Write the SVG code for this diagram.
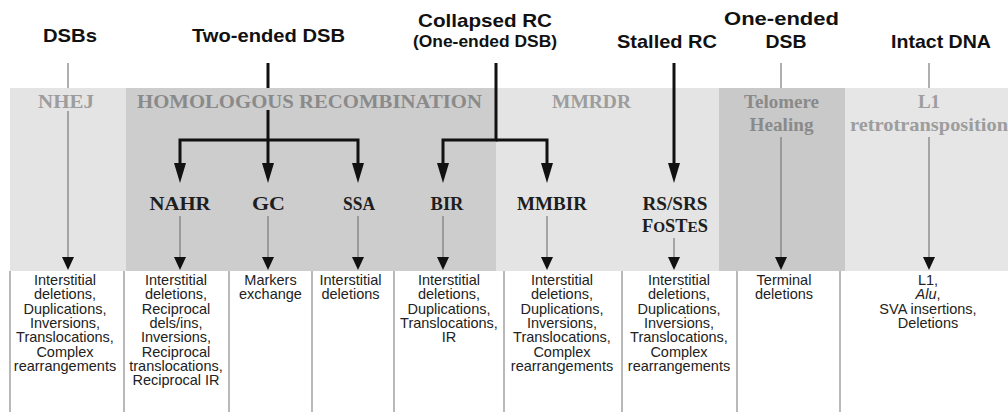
<svg xmlns="http://www.w3.org/2000/svg" width="1008" height="412" viewBox="0 0 1008 412">
<style>
.hdr{font-family:"Liberation Sans",Arial,sans-serif;font-weight:bold;font-size:19px;fill:#111;text-anchor:middle}
.sub{font-size:16.5px}
.band{font-family:"Liberation Serif","Times New Roman",serif;font-weight:bold;font-size:19px;text-anchor:middle}
.bl{fill:#9d9d9d}
.bd{fill:#8a8a8a}
.mid{font-family:"Liberation Serif","Times New Roman",serif;font-weight:bold;font-size:18px;fill:#1e1e1e;text-anchor:middle}
.res{font-family:"Liberation Sans",Arial,sans-serif;font-size:14.5px;fill:#222;text-anchor:middle}
.thick{fill:none;stroke:#111;stroke-width:3}
.thin{fill:none;stroke:#7a7a7a;stroke-width:1.2}
.sep{stroke:#8a8a8a;stroke-width:1.2}
</style>
<defs>
<marker id="ahThick" markerUnits="userSpaceOnUse" markerWidth="22" markerHeight="14" viewBox="0 -7 22 14" refX="0" refY="0" orient="auto">
<path d="M0,-6 L20,0 L0,6 z" fill="#111"/>
</marker>
<marker id="ahThin" markerUnits="userSpaceOnUse" markerWidth="15" markerHeight="14" viewBox="0 -7 15 14" refX="0" refY="0" orient="auto">
<path d="M0,-6 L13,0 L0,6 z" fill="#111"/>
</marker>
</defs>
<rect x="0" y="0" width="1008" height="412" fill="#fff"/>
<g id="bands">
<rect x="10" y="88" width="116" height="183" fill="#e4e4e4"/>
<rect x="126" y="88" width="370" height="183" fill="#cdcdcd"/>
<rect x="496" y="88" width="223" height="183" fill="#e4e4e4"/>
<rect x="719" y="88" width="126" height="183" fill="#c9c9c9"/>
<rect x="845" y="88" width="163" height="183" fill="#e6e6e6"/>
</g>
<g id="band-labels">
<g id="nhej"><text class="band bl" x="66" y="108" textLength="56" lengthAdjust="spacingAndGlyphs">NHEJ</text></g>
<g id="hr"><text class="band bd" x="309.5" y="108" textLength="345" lengthAdjust="spacingAndGlyphs">HOMOLOGOUS RECOMBINATION</text></g>
<g id="mmrdr"><text class="band bl" x="591.5" y="108" textLength="79" lengthAdjust="spacingAndGlyphs">MMRDR</text></g>
<g id="telomere"><text class="band bd" x="781.5" y="108" textLength="75" lengthAdjust="spacingAndGlyphs" font-weight="normal">Telomere</text><text class="band bd" x="781.5" y="131" textLength="64" lengthAdjust="spacingAndGlyphs" font-weight="normal">Healing</text></g>
<g id="l1"><text class="band bl" x="929" y="108" font-weight="normal">L1</text><text class="band bl" x="929" y="131" textLength="158" lengthAdjust="spacingAndGlyphs" font-weight="normal">retrotransposition</text></g>
</g>
<g id="headers">
<g id="h-dsbs"><text class="hdr" x="70" y="42" textLength="54" lengthAdjust="spacingAndGlyphs">DSBs</text></g>
<g id="h-two"><text class="hdr" x="268.5" y="42" textLength="153" lengthAdjust="spacingAndGlyphs">Two-ended DSB</text></g>
<g id="h-collapsed"><text class="hdr" x="485" y="27" textLength="134" lengthAdjust="spacingAndGlyphs">Collapsed RC</text><text class="hdr sub" x="485" y="47" textLength="144" lengthAdjust="spacingAndGlyphs">(One-ended DSB)</text></g>
<g id="h-stalled"><text class="hdr" x="667" y="48" textLength="100" lengthAdjust="spacingAndGlyphs">Stalled RC</text></g>
<g id="h-oneended"><text class="hdr" x="781.5" y="25" textLength="115" lengthAdjust="spacingAndGlyphs">One-ended</text><text class="hdr" x="786" y="48" textLength="41" lengthAdjust="spacingAndGlyphs">DSB</text></g>
<g id="h-intact"><text class="hdr" x="941" y="48" textLength="100" lengthAdjust="spacingAndGlyphs">Intact DNA</text></g>
</g>
<g id="mechanisms">
<g id="m-nahr"><text class="mid" x="180" y="210" textLength="61" lengthAdjust="spacingAndGlyphs">NAHR</text></g>
<g id="m-gc"><text class="mid" x="268.5" y="210" textLength="33" lengthAdjust="spacingAndGlyphs">GC</text></g>
<g id="m-ssa"><text class="mid" x="359" y="210" textLength="32" lengthAdjust="spacingAndGlyphs">SSA</text></g>
<g id="m-bir"><text class="mid" x="447" y="210" textLength="33" lengthAdjust="spacingAndGlyphs">BIR</text></g>
<g id="m-mmbir"><text class="mid" x="552" y="210" textLength="70" lengthAdjust="spacingAndGlyphs">MMBIR</text></g>
<g id="m-rs"><text class="mid" x="675" y="210" textLength="65" lengthAdjust="spacingAndGlyphs">RS/SRS</text><text class="mid" x="675" y="232" textLength="66" lengthAdjust="spacingAndGlyphs">F<tspan font-size="15">O</tspan>ST<tspan font-size="15">E</tspan>S</text></g>
</g>
<g id="connectors">
<path class="thick" d="M268,63 V88"/>
<path class="thick" d="M268,110 V163" marker-end="url(#ahThick)"/>
<path class="thick" d="M268,140 H180 V163" marker-end="url(#ahThick)"/>
<path class="thick" d="M268,140 H358 V163" marker-end="url(#ahThick)"/>
<path class="thick" d="M496,63 V140 H443 V163" marker-end="url(#ahThick)"/>
<path class="thick" d="M496,140 H547 V163" marker-end="url(#ahThick)"/>
<path class="thick" d="M674,63 V163" marker-end="url(#ahThick)"/>
<path class="thin" d="M68,63 V88"/>
<path class="thin" d="M68,111 V257" marker-end="url(#ahThin)"/>
<path class="thin" d="M180,216 V257" marker-end="url(#ahThin)"/>
<path class="thin" d="M268,216 V257" marker-end="url(#ahThin)"/>
<path class="thin" d="M358,216 V257" marker-end="url(#ahThin)"/>
<path class="thin" d="M443,216 V257" marker-end="url(#ahThin)"/>
<path class="thin" d="M547,216 V257" marker-end="url(#ahThin)"/>
<path class="thin" d="M674,238 V257" marker-end="url(#ahThin)"/>
<path class="thin" d="M781,63 V88"/>
<path class="thin" d="M781,137 V257" marker-end="url(#ahThin)"/>
<path class="thin" d="M929,63 V88"/>
<path class="thin" d="M929,137 V257" marker-end="url(#ahThin)"/>
</g>
<g id="result-grid">
<line class="sep" x1="10" y1="271" x2="10" y2="412"/>
<line class="sep" x1="124" y1="271" x2="124" y2="412"/>
<line class="sep" x1="229" y1="271" x2="229" y2="412"/>
<line class="sep" x1="312" y1="271" x2="312" y2="412"/>
<line class="sep" x1="394" y1="271" x2="394" y2="412"/>
<line class="sep" x1="504" y1="271" x2="504" y2="412"/>
<line class="sep" x1="622" y1="271" x2="622" y2="412"/>
<line class="sep" x1="737" y1="271" x2="737" y2="412"/>
<line class="sep" x1="840" y1="271" x2="840" y2="412"/>
</g>
<g id="r-nhej"><text class="res" x="65" y="285">Interstitial</text><text class="res" x="65" y="299.3">deletions,</text><text class="res" x="65" y="313.6">Duplications,</text><text class="res" x="65" y="327.9">Inversions,</text><text class="res" x="65" y="342.2">Translocations,</text><text class="res" x="65" y="356.5">Complex</text><text class="res" x="65" y="370.8">rearrangements</text></g>
<g id="r-nahr"><text class="res" x="176" y="285">Interstitial</text><text class="res" x="176" y="299.3">deletions,</text><text class="res" x="176" y="313.6">Reciprocal</text><text class="res" x="176" y="327.9">dels/ins,</text><text class="res" x="176" y="342.2">Inversions,</text><text class="res" x="176" y="356.5">Reciprocal</text><text class="res" x="176" y="370.8">translocations,</text><text class="res" x="176" y="385.1">Reciprocal IR</text></g>
<g id="r-gc"><text class="res" x="270.5" y="285">Markers</text><text class="res" x="270.5" y="299.3">exchange</text></g>
<g id="r-ssa"><text class="res" x="350.5" y="285">Interstitial</text><text class="res" x="350.5" y="299.3">deletions</text></g>
<g id="r-bir"><text class="res" x="449" y="285">Interstitial</text><text class="res" x="449" y="299.3">deletions,</text><text class="res" x="449" y="313.6">Duplications,</text><text class="res" x="449" y="327.9">Translocations,</text><text class="res" x="449" y="342.2">IR</text></g>
<g id="r-mmbir"><text class="res" x="562" y="285">Interstitial</text><text class="res" x="562" y="299.3">deletions,</text><text class="res" x="562" y="313.6">Duplications,</text><text class="res" x="562" y="327.9">Inversions,</text><text class="res" x="562" y="342.2">Translocations,</text><text class="res" x="562" y="356.5">Complex</text><text class="res" x="562" y="370.8">rearrangements</text></g>
<g id="r-rs"><text class="res" x="679" y="285">Interstitial</text><text class="res" x="679" y="299.3">deletions,</text><text class="res" x="679" y="313.6">Duplications,</text><text class="res" x="679" y="327.9">Inversions,</text><text class="res" x="679" y="342.2">Translocations,</text><text class="res" x="679" y="356.5">Complex</text><text class="res" x="679" y="370.8">rearrangements</text></g>
<g id="r-telomere"><text class="res" x="784" y="285">Terminal</text><text class="res" x="784" y="299.3">deletions</text></g>
<g id="r-l1"><text class="res" x="928" y="285">L1,</text><text class="res" x="928" y="299.3"><tspan font-style="italic">Alu</tspan>,</text><text class="res" x="928" y="313.6">SVA insertions,</text><text class="res" x="928" y="327.9">Deletions</text></g>
</svg>
